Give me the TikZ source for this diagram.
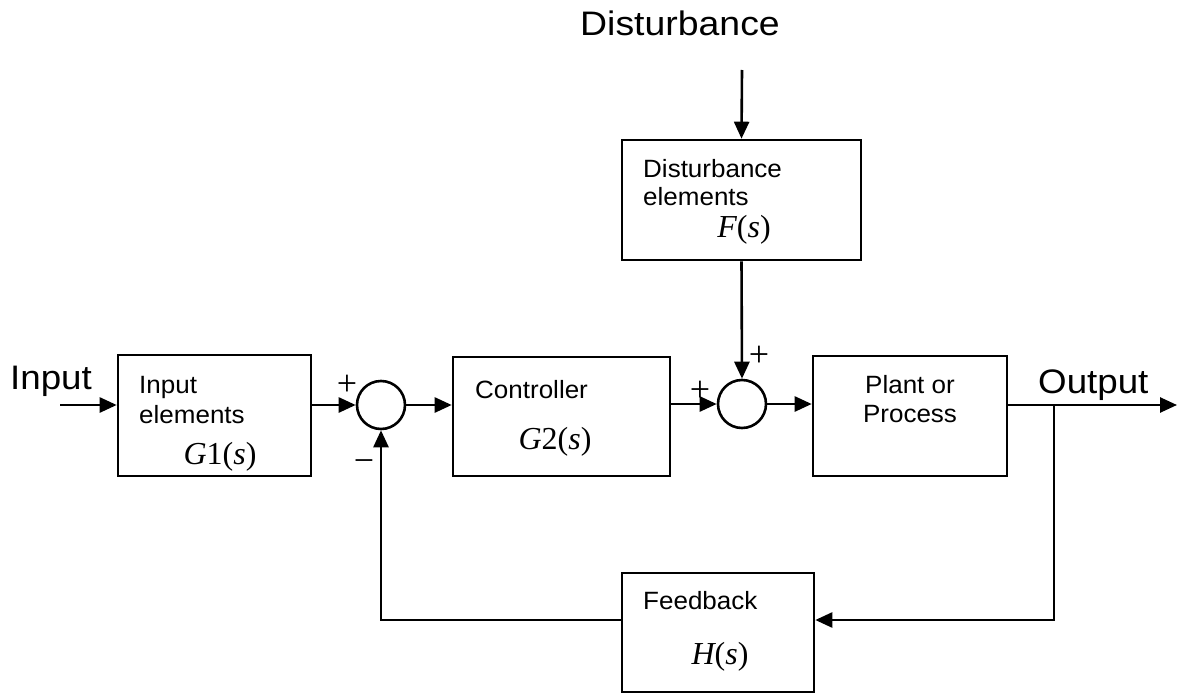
\documentclass[tikz,border=0pt]{standalone}
\usepackage{fontspec}
\setmainfont{Liberation Sans}
\newfontfamily\mfont{Liberation Serif}
\usetikzlibrary{arrows.meta}
\tikzset{
  x=1pt,y=-1pt,
  blk/.style={draw,line width=2.6pt,inner sep=0pt},
  sumc/.style={draw,circle,line width=2.6pt,minimum size=48pt,inner sep=0pt},
  arr/.style={line width=2.6pt,-{Triangle[length=17pt,width=15pt]}},
  btxt/.style={font=\fontsize{25}{30}\selectfont,inner sep=0pt},
  bigtxt/.style={font=\fontsize{34}{40}\selectfont,inner sep=0pt},
  mtxt/.style={font=\fontsize{32}{38}\mfont,inner sep=0pt},
  sgn/.style={font=\fontsize{36}{40}\mfont,inner sep=0pt}
}
\begin{document}
\begin{tikzpicture}
\useasboundingbox (0,0) rectangle (1180,693);
% blocks
\node[blk,minimum width=193pt,minimum height=121pt] (inb) at (214.5,415.5) {};
\node[blk,minimum width=217pt,minimum height=119pt] (ctrl) at (561.5,416.5) {};
\node[blk,minimum width=194pt,minimum height=120pt] (plant) at (910,416) {};
\node[blk,minimum width=239pt,minimum height=120pt] (dist) at (741.5,200) {};
\node[blk,minimum width=192pt,minimum height=119pt] (fb) at (718,632.5) {};
% summing junctions
\node[sumc] (s1) at (381,405) {};
\node[sumc] (s2) at (742,404) {};
% texts
\node[btxt,anchor=base west] (t1a) at (139,393) {\scalebox{1.04}[1]{Input}};
\node[btxt,anchor=base west] (t1b) at (139,423) {\scalebox{1.04}[1]{elements}};
\node[mtxt] (t1c) at (220,457) {{\itshape G}1({\itshape s})};
\node[btxt,anchor=base west] (t2a) at (475,398) {\scalebox{1.04}[1]{Controller}};
\node[mtxt] (t2b) at (555,442) {{\itshape G}2({\itshape s})};
\node[btxt,anchor=base] (t3a) at (910,393) {\scalebox{1.04}[1]{Plant or}};
\node[btxt,anchor=base] (t3b) at (910,422) {\scalebox{1.04}[1]{Process}};
\node[btxt,anchor=base west] (t4a) at (643,177) {\scalebox{1.04}[1]{Disturbance}};
\node[btxt,anchor=base west] (t4b) at (643,205) {\scalebox{1.04}[1]{elements}};
\node[mtxt] (t4c) at (744,230) {{\itshape F}({\itshape s})};
\node[btxt,anchor=base west] (t5a) at (643,609) {\scalebox{1.04}[1]{Feedback}};
\node[mtxt] (t5b) at (720,657) {{\itshape H}({\itshape s})};
% big labels
\node[bigtxt,anchor=base west] (lin) at (10,389) {\scalebox{1.08}[1]{Input}};
\node[bigtxt,anchor=base west] (lout) at (1038,393) {\scalebox{1.08}[1]{Output}};
\node[bigtxt,anchor=base] (ldist) at (680,36) {\scalebox{1.1}[1]{Disturbance}};
% signs
\node[sgn] (p1) at (347,385) {+};
\node[sgn] (m1) at (364,466) {−};
\node[sgn] (p2) at (700,391) {+};
\node[sgn] (p3) at (759,356) {+};
% coordinates
\coordinate (instart) at (60,405);
\coordinate (outend) at (1177,405);
\coordinate (branch) at (1054,405);
\coordinate (dstart) at (742,70);
% connectors
\draw[arr] (instart) -- (instart -| inb.west);
\draw[arr] (s1 -| inb.east) -- (s1.west);
\draw[arr] (s1.east) -- (s1 -| ctrl.west);
\draw[arr] (s2 -| ctrl.east) -- (s2.west);
\draw[arr] (s2.east) -- (s2 -| plant.west);
\draw[arr] (outend -| plant.east) -- (outend);
\draw[arr] (dstart) -- (dist.north);
\draw[arr] (dist.south) -- (s2.north);
\draw[arr] (branch) |- ([yshift=12.5pt]fb.east);
\draw[arr] ([yshift=12.5pt]fb.west) -| (s1.south);
\end{tikzpicture}
\end{document}
